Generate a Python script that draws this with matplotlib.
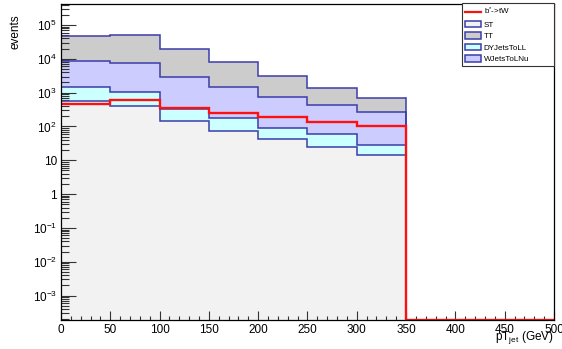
import numpy as np
import matplotlib
matplotlib.use("Agg")
import matplotlib.pyplot as plt
from matplotlib.patches import Patch
from matplotlib.lines import Line2D
from matplotlib.ticker import FixedLocator, MultipleLocator

plt.rcParams['font.family'] = ['Liberation Sans', 'DejaVu Sans']
plt.rcParams['mathtext.fontset'] = 'custom'
plt.rcParams['mathtext.rm'] = 'Liberation Sans'
plt.rcParams['mathtext.it'] = 'Liberation Sans:italic'

# ------------------------------------------------------------
# histogram contents (pT_jet bins of 50 GeV, 0-500)
# ------------------------------------------------------------
bin_edges = [0, 50, 100, 150, 200, 250, 300, 350, 400, 450, 500]

st_counts = [560, 390, 150, 74, 44, 25, 14.4, 0, 0, 0]
dy_counts = [890, 660, 175, 99, 45, 33, 14.6, 0, 0, 0]
wjets_counts = [7450, 6650, 2575, 1277, 651, 382, 236, 0, 0, 0]
tt_counts = [39100, 42300, 16700, 6450, 2460, 940, 415, 0, 0, 0]

signal_counts = [470, 610, 350, 250, 185, 135, 100, 0, 0, 0]

# stack order from bottom to top
stack_names = ["ST", "DYJetsToLL", "WJetsToLNu", "TT"]
stack_counts = [st_counts, dy_counts, wjets_counts, tt_counts]
stack_colors = ["#f2f2f2", "#ccffff", "#ccccff", "#cccccc"]

y_min = 1.9e-4
y_max = 4.1e5
outline = "#3c3caa"
red = "#ff1010"

fig = plt.figure(figsize=(5.62, 3.49), dpi=100)
ax = fig.add_axes([0.1085, 0.0831, 0.8772, 0.9046])

edges = np.array(bin_edges, dtype=float)
filled = np.array(st_counts) > 0
n_filled = int(filled.sum())

cumulative = np.cumsum(np.array(stack_counts, dtype=float), axis=0)

# draw the tallest layer first so lower ones sit on top of it
for i in reversed(range(len(stack_names))):
    ax.stairs(cumulative[i][:n_filled], edges[:n_filled + 1], baseline=y_min,
              fill=True, facecolor=stack_colors[i], edgecolor='none', zorder=1)
    ax.stairs(cumulative[i][:n_filled], edges[:n_filled + 1], baseline=None,
              color=outline, linewidth=1.1, zorder=2)
    ax.plot([edges[n_filled], edges[n_filled]], [y_min, cumulative[i][n_filled - 1]],
            color=outline, linewidth=1.1, zorder=2)

# signal histogram, empty bins sit on the axis floor
signal = np.maximum(np.array(signal_counts, dtype=float), y_min)
ax.stairs(signal, edges, baseline=None, color=red, linewidth=1.7, zorder=3)

ax.set_yscale('log')
ax.set_xlim(0, 500)
ax.set_ylim(y_min, y_max)

decades = [-3, -2, -1, 0, 1, 2, 3, 4, 5]
labels = []
for d in decades:
    if d == 0:
        labels.append("1")
    elif d == 1:
        labels.append("10")
    else:
        labels.append(r"$10^{%d}$" % d)
ax.yaxis.set_major_locator(FixedLocator([10.0 ** d for d in decades]))
ax.set_yticklabels(labels)
minor = [m * 10.0 ** d for d in range(-4, 6) for m in range(2, 10)]
ax.yaxis.set_minor_locator(FixedLocator(minor))

ax.xaxis.set_major_locator(MultipleLocator(50))
ax.xaxis.set_minor_locator(MultipleLocator(10))

ax.tick_params(axis='both', which='both', direction='in', top=False, right=False,
               labelsize=8.5, width=0.8, color='#333333')
ax.tick_params(axis='x', which='major', length=6.5, pad=3)
ax.tick_params(axis='x', which='minor', length=3.2)
ax.tick_params(axis='y', which='major', length=10.8, pad=3)
ax.tick_params(axis='y', which='minor', length=5.8)

for spine in ax.spines.values():
    spine.set_linewidth(0.9)
    spine.set_zorder(5)

fig.text(0.027, 0.96, "events", rotation=90, ha='center', va='top', fontsize=8.5)
fig.text(0.985, 0.032, r"pT$_{\rm jet}$ (GeV)", ha='right', va='center', fontsize=8.5)

handles = [Line2D([], [], color=red, linewidth=1.6),
           Patch(facecolor="#f2f2f2", edgecolor=outline, linewidth=1.1),
           Patch(facecolor="#cccccc", edgecolor=outline, linewidth=1.1),
           Patch(facecolor="#ccffff", edgecolor=outline, linewidth=1.1),
           Patch(facecolor="#ccccff", edgecolor=outline, linewidth=1.1)]
legend_labels = [r"b$^{*}$->tW", "ST", "TT", "DYJetsToLL", "WJetsToLNu"]
leg = ax.legend(handles, legend_labels, loc='upper left',
                bbox_to_anchor=(0.813, 0.811, 0.187, 0.193), mode='expand',
                borderaxespad=0, fontsize=5.8, frameon=True, fancybox=False,
                edgecolor='#333333', framealpha=1, handlelength=2.0, handleheight=0.9,
                labelspacing=0.42, handletextpad=0.35, borderpad=0.35)
leg.get_frame().set_linewidth(0.8)
leg.set_zorder(6)

fig.savefig("out.png", dpi=100)
